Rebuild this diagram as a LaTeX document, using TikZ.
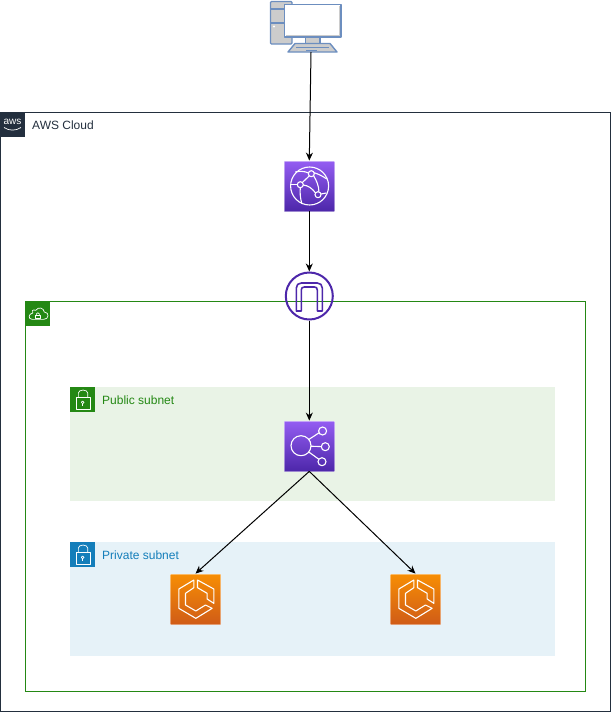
\documentclass[tikz,border=0pt]{standalone}
\usepackage{fontspec}
\setmainfont{Liberation Sans}
\usetikzlibrary{arrows.meta}
\definecolor{awsdark}{HTML}{232F3E}
\definecolor{vpcgreen}{HTML}{248814}
\definecolor{subblue}{HTML}{147EBA}
\definecolor{pubfill}{HTML}{E9F3E6}
\definecolor{privfill}{HTML}{E6F2F8}
\definecolor{igwpurple}{HTML}{4D27AA}
\definecolor{purpletop}{HTML}{945DF2}
\definecolor{orangetop}{HTML}{F78E04}
\definecolor{orangebot}{HTML}{D05C17}
\definecolor{pcblue}{HTML}{6C8EBF}
\definecolor{pcgrey}{HTML}{CCCCCC}
\tikzset{
  frame/.style={draw=#1,line width=1pt,fill=none},
  subnetarea/.style={fill=#1,draw=none},
  badge/.style={fill=#1,draw=none,minimum size=25pt,inner sep=0pt,anchor=north west},
  lbl/.style={text=#1,font=\fontsize{12}{14}\selectfont,anchor=west,inner sep=0pt},
  purpleicon/.style={minimum size=50pt,inner sep=0pt,top color=purpletop,bottom color=igwpurple,draw=white,draw opacity=.45,line width=.8pt},
  orangeicon/.style={minimum size=50pt,inner sep=0pt,top color=orangetop,bottom color=orangebot,draw=white,draw opacity=.4,line width=.8pt},
  glyph/.style={draw=white,line width=1.1pt,fill=none,line join=round},
  thinglyph/.style={draw=white,line width=.7pt,fill=none,line join=round},
  conn/.style={draw=black,line width=1pt,-{Stealth[length=8pt,width=7pt]}},
  pcpart/.style={draw=pcblue,line width=1.4pt,fill=pcgrey,line join=round},
}
\newcommand{\ecsglyph}[1]{%
  \begin{scope}[shift={(#1.center)},x=.3333pt,y=-.3333pt]
    \draw[glyph] (-5,-57)--(-50,-30)--(-50,28)--(1,58)--(50,28)--(30,18)--(1,36)--(-30,18)--(-30,-17)--(-5,-34)--cycle;
    \draw[glyph] (6,-57)--(55,-30)--(55,13)--(35,0)--(35,-17)--(6,-34)--cycle;
  \end{scope}}
\newcommand{\lockglyph}[1]{%
  \begin{scope}[shift={(#1.center)},x=.3333pt,y=-.3333pt]
    \draw[thinglyph] (-19,-7) rectangle (22,30);
    \draw[thinglyph] (-13,-7)--(-13,-20) arc[start angle=180,end angle=0,x radius=14,y radius=-9]--(15,-7);
    \draw[thinglyph] (0,8) circle[radius=4];
    \draw[thinglyph] (0,12)--(0,19);
  \end{scope}}
\begin{document}
\begin{tikzpicture}[x=1pt,y=-1pt]
\useasboundingbox (0,0) rectangle (611,712);
% frames
\draw[frame=awsdark] (0.5,112) rectangle (610.5,711);
\fill[subnetarea=pubfill] (70,387) rectangle (555,501);
\fill[subnetarea=privfill] (70,542) rectangle (555,656);
\draw[frame=vpcgreen] (25.5,301.5) rectangle (585.5,691.5);
% badges
\node[badge=awsdark] (awsbadge) at (0,112) {};
\node[badge=vpcgreen] (vpcbadge) at (25,301) {};
\node[badge=vpcgreen] (pubbadge) at (70,387) {};
\node[badge=subblue] (privbadge) at (70,542) {};
\node[text=white,inner sep=0pt,font=\fontsize{10}{10}\selectfont] (awsword) at (12.5,121.5) {aws};
\draw[white,line width=.7pt] (4,127.5) .. controls (9,131) and (16,131) .. (21,127.5);
\begin{scope}[shift={(vpcbadge.center)},x=.3333pt,y=-.3333pt]
  \draw[thinglyph] (-16,17) -- (18,17) .. controls (34,17) and (36,-4) .. (20,-5) .. controls (18,-18) and (2,-22) .. (-6,-10) .. controls (-14,-14) and (-20,-8) .. (-15,-2) .. controls (-28,0) and (-30,17) .. (-16,17);
  \draw[thinglyph] (-7,4) rectangle (8,14);
  \draw[thinglyph] (-4,4) -- (-4,1) arc[start angle=180,end angle=0,x radius=4.5,y radius=-4] -- (5,4);
\end{scope}
\lockglyph{pubbadge}
\lockglyph{privbadge}
% labels
\node[lbl=awsdark] (cloudlabel) at (32,125.5) {AWS Cloud};
\node[lbl=vpcgreen] (publabel) at (102,400.3) {Public subnet};
\node[lbl=subblue] (privlabel) at (102,555.3) {Private subnet};
% icons
\node[minimum width=60pt,minimum height=52pt,inner sep=0pt] (pc) at (311,26) {};
\node[purpleicon] (cf) at (309.3,186) {};
\node[draw=igwpurple,line width=2pt,circle,minimum size=47pt,inner sep=0pt] (igw) at (309.3,296) {};
\node[purpleicon] (alb) at (309.3,446) {};
\node[orangeicon] (ecsa) at (195.5,599) {};
\node[orangeicon] (ecsb) at (415.5,599) {};
% pc glyph
\begin{scope}[shift={(pc.center)}]
  \draw[pcpart,rounded corners=1pt] (-40.5,-24.5) rectangle (-19,18);
  \draw[pcpart] (-40.5,-17)--(-19,-17);
  \draw[pcpart] (-40.5,-3)--(-19,-3);
  \fill[white] (-37,0.5) circle[radius=1.2];
  \draw[pcpart] (-5.5,11) rectangle (9,17.5);
  \draw[pcpart,fill=white] (-26.5,-21.5) rectangle (30,11);
  \draw[draw=pcgrey,line width=1pt] (28.3,-20) -- (28.3,9.3) -- (-25,9.3);
  \draw[pcpart] (-16,17.5)--(19,17.5)--(26,26)--(-23,26)--cycle;
  \draw[draw=pcblue,line width=1pt] (-15,21)--(18,21);
  \draw[draw=pcblue,line width=1pt] (-5,24.5)--(6,24.5);
\end{scope}
% cloudfront glyph
\begin{scope}[shift={(cf.center)}]
  \draw[glyph] (0.3,0) circle[radius=19];
  \draw[glyph] (2,-12.3) circle[radius=3];
  \draw[glyph] (-9,-1.3) circle[radius=3];
  \draw[glyph] (8.7,8.7) circle[radius=3];
  \draw[glyph] (0,-10.2) -- (-7,-3.4);
  \draw[glyph] (-6,-1) .. controls (-1,-0.5) and (3,2.5) .. (6.2,7);
  \draw[glyph] (4.3,-10.3) .. controls (7.5,-5) and (9.5,0) .. (9.6,5.7);
  \draw[glyph] (-18.5,-1.3) -- (-12,-1.3);
  \draw[glyph] (-9,1.7) .. controls (-9.5,7) and (-9,12) .. (-7.5,17.5);
  \draw[glyph] (-0.8,-13) .. controls (-5,-15) and (-10,-15) .. (-14,-14);
  \draw[glyph] (4.8,-13.3) .. controls (9,-12) and (13,-10) .. (17.5,-7);
  \draw[glyph] (11.6,8) -- (17,7);
\end{scope}
% igw glyph
\begin{scope}[shift={(igw.center)}]
  \draw[draw=igwpurple,line width=1.6pt,line join=round]
    (-13,15)--(-13,-8) .. controls (-13,-11) and (-11,-13) .. (-8,-13) -- (8,-13)
    .. controls (11,-13) and (13,-11) .. (13,-8) -- (13,15)--(8,15)--(8,-6)
    .. controls (8,-8) and (7,-9) .. (5,-9) -- (-5,-9)
    .. controls (-7,-9) and (-8,-8) .. (-8,-6) -- (-8,15)--cycle;
\end{scope}
% alb glyph
\begin{scope}[shift={(alb.center)}]
  \draw[glyph] (-8.3,-0.3) circle[radius=10];
  \draw[glyph] (13.3,-15) circle[radius=4];
  \draw[glyph] (16,0.7) circle[radius=4];
  \draw[glyph] (12.7,15.7) circle[radius=4];
  \draw[glyph] (-0.5,-6.5) -- (9.7,-13.2);
  \draw[glyph] (1.7,0.2) -- (12,0.6);
  \draw[glyph] (-0.5,6) -- (9.5,13.2);
\end{scope}
\ecsglyph{ecsa}
\ecsglyph{ecsb}
% connectors
\draw[conn] (pc.south) -- (cf.north);
\draw[conn] (cf.south) -- (igw.north);
\draw[conn] (igw.south) -- (alb.north);
\draw[conn] (alb.south) -- (ecsa.north);
\draw[conn] (alb.south) -- (ecsb.north);
\end{tikzpicture}
\end{document}
